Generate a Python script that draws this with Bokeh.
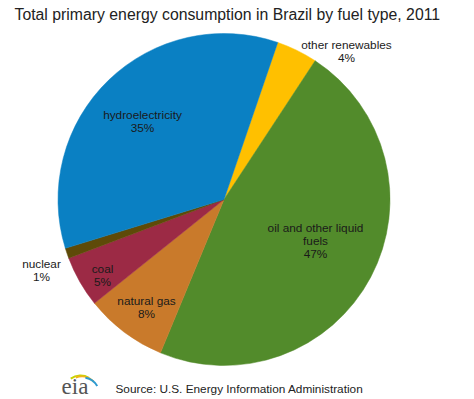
import math
from bokeh.plotting import figure
from bokeh.models import Range1d, ColumnDataSource
from bokeh.core.properties import value
from bokeh.embed import file_html
from bokeh.resources import INLINE

# ---- data ----
fuels = ["other renewables", "oil and other liquid fuels", "natural gas", "coal", "nuclear", "hydroelectricity"]
shares = [4, 47, 8, 5, 1, 35]
colors = ["#FFC000", "#528B2B", "#C97A2B", "#9C2A45", "#5E4A08", "#0A80C3"]
label_lines = [["other renewables", "4%"],
               ["oil and other liquid", "fuels", "47%"],
               ["natural gas", "8%"],
               ["coal", "5%"],
               ["nuclear", "1%"],
               ["hydroelectricity", "35%"]]
title_text = "Total primary energy consumption in Brazil by fuel type, 2011"
source_text = "Source: U.S. Energy Information  Administration"

W, H = 474, 399
def X(px):
    return px
def Y(py):
    return H - py

p = figure(width=W, height=H, output_backend="svg", toolbar_location=None,
           x_range=Range1d(0, W), y_range=Range1d(0, H), min_border=0)
p.axis.visible = False
p.grid.visible = False
p.outline_line_color = None
p.background_fill_color = "white"

cx, cy, r = X(223.5), Y(199), 166
a0 = math.radians(90 - 18.9)
total = sum(shares)
starts, ends = [], []
cum = 0
for s in shares:
    starts.append(a0 - cum / total * 2 * math.pi)
    cum += s
    ends.append(a0 - cum / total * 2 * math.pi)

src = ColumnDataSource(dict(start=starts, end=ends, color=colors, fuel=fuels, share=shares))
p.wedge(x=cx, y=cy, radius=r, start_angle="start", end_angle="end", direction="clock",
        fill_color="color", line_color="color", line_width=0.5, source=src)

# label centres (image px, first line)
label_pos = [(346, 44), (315, 227), (146, 300), (102, 268), (41, 263), (142, 114)]
lx, ly, lt = [], [], []
for (px, py), lines in zip(label_pos, label_lines):
    for i, t in enumerate(lines):
        lx.append(X(px)); ly.append(Y(py + 13.3 * i)); lt.append(t)
p.text(x=lx, y=ly, text=lt, text_align="center", text_baseline="middle",
       text_font=value("Liberation Sans"), text_font_size="11.8px", text_color="#1a1a1a")

# title
p.text(x=[X(14)], y=[Y(14)], text=[title_text], text_align="left", text_baseline="middle",
       text_font=value("Liberation Sans"), text_font_size="15.8px", text_color="#222222")

# source
p.text(x=[X(115)], y=[Y(388)], text=[source_text], text_align="left", text_baseline="middle",
       text_font=value("Liberation Sans"), text_font_size="11.8px", text_color="#222222")

# eia logo
p.text(x=[X(74.5)], y=[Y(386)], text=["eia"], text_align="center", text_baseline="middle",
       text_font=value("Liberation Serif"), text_font_size="23px", text_color="#555555")
p.arc(x=[X(80), X(81), X(82)], y=[Y(392), Y(393), Y(394)], radius=[17, 17, 17],
      start_angle=[math.radians(60), math.radians(45), math.radians(30)],
      end_angle=[math.radians(125), math.radians(110), math.radians(80)],
      line_color=["#C8D400", "#F2B31B", "#2E9AD0"], line_width=2)

open("out.html", "w").write(file_html(p, INLINE))
